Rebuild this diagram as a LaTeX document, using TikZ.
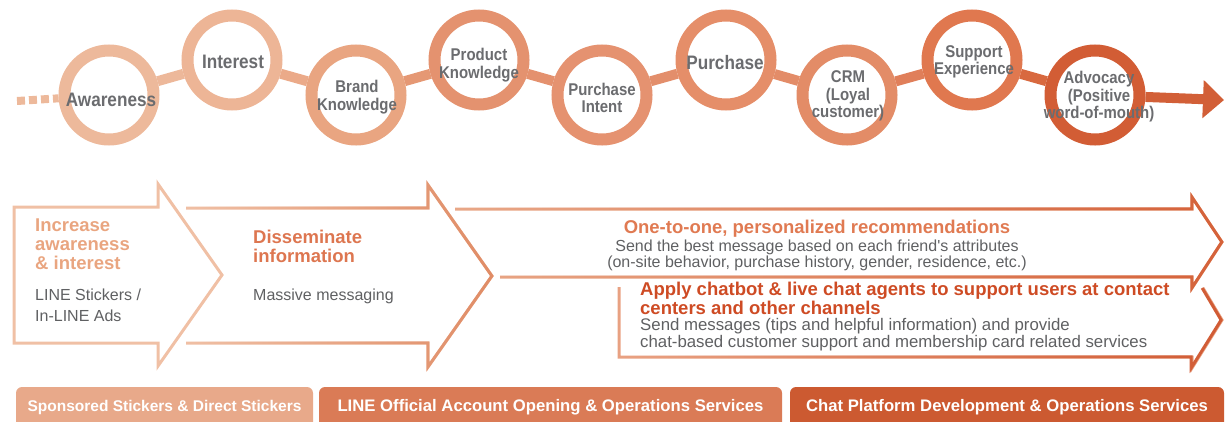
\documentclass[tikz,border=0pt]{standalone}
\usepackage{fontspec}
\setmainfont{Liberation Sans}
\newfontfamily\stepfont[FakeStretch=0.88]{Liberation Sans}
\usetikzlibrary{arrows.meta,fadings,backgrounds}

% COULEURS
\definecolor{stepgray}{HTML}{6B6C6F}
\definecolor{textgray}{HTML}{5F6062}
\definecolor{ringa}{HTML}{EDB99B}
\definecolor{ringb}{HTML}{EDB596}
\definecolor{ringc}{HTML}{E9A581}
\definecolor{ringd}{HTML}{E4926F}
\definecolor{ringe}{HTML}{E59270}
\definecolor{ringf}{HTML}{E58E69}
\definecolor{ringg}{HTML}{E38C67}
\definecolor{ringh}{HTML}{E0784F}
\definecolor{ringi}{HTML}{D25D35}
\definecolor{linka}{HTML}{EDB89A}
\definecolor{linkb}{HTML}{EBAA89}
\definecolor{linkc}{HTML}{E59874}
\definecolor{linkd}{HTML}{E4916E}
\definecolor{linke}{HTML}{E38E6B}
\definecolor{linkf}{HTML}{E38C68}
\definecolor{linkg}{HTML}{E07F5A}
\definecolor{linkh}{HTML}{D8693F}
\definecolor{arrowc}{HTML}{D25F37}
\definecolor{shapea}{HTML}{F0C0A5}
\definecolor{shapeb}{HTML}{E08C66}
\definecolor{shapec}{HTML}{E9A888}
\definecolor{shaped}{HTML}{D5623A}
\definecolor{shapee}{HTML}{E9A283}
\definecolor{shapef}{HTML}{D15B34}
\definecolor{headinc}{HTML}{E9A580}
\definecolor{headdis}{HTML}{DD7650}
\definecolor{headone}{HTML}{E07A52}
\definecolor{headapp}{HTML}{CE4B24}
\definecolor{bara}{HTML}{E8A98A}
\definecolor{barb}{HTML}{DA7B56}
\definecolor{barc}{HTML}{CC5A31}

\tikzfading[name=fade right, left color=transparent!100, right color=transparent!0]

\begin{document}
\begin{tikzpicture}[x=1pt,y=-1pt,
  ring/.style={circle,draw=#1,fill=white,line width=12pt,minimum size=89pt,inner sep=0pt},
  steptext/.style={text=stepgray,font=\stepfont\bfseries\fontsize{17}{17.5}\selectfont,align=center,inner sep=0pt},
  bigstep/.style={steptext,font=\stepfont\bfseries\fontsize{19.5}{20}\selectfont},
  link/.style={line width=10pt,draw=#1},
  outline/.style 2 args={line width=3pt,draw=#1,postaction={draw=#2,line width=3pt,path fading=fade right}},
  headline/.style={font=\bfseries\fontsize{18.5}{19}\selectfont,inner sep=0pt},
  bodyline/.style={text=textgray,font=\fontsize{16}{21}\selectfont,inner sep=0pt},
  bar/.style={fill=#1,rounded corners=6pt,text=white,minimum height=41pt,inner sep=0pt,
    font=\bfseries\fontsize{16.7}{17}\selectfont}]
  \useasboundingbox (0,0) rectangle (1226,421);

  % CERCLES
  \node[ring=ringa] (aw) at (109,95) {};
  \node[ring=ringb] (in) at (232,60) {};
  \node[ring=ringc] (bk) at (356,95) {};
  \node[ring=ringd] (pk) at (479,60) {};
  \node[ring=ringe] (pi) at (602,95) {};
  \node[ring=ringf] (pu) at (726,60) {};
  \node[ring=ringg] (crm) at (847,95) {};
  \node[ring=ringh] (se) at (972,60) {};
  \node[ring=ringi] (adv) at (1095,95) {};

  % TEXTES CERCLES
  \node[bigstep] (aw-t) at (111,100) {Awareness};
  \node[bigstep] (in-t) at (233,62) {Interest};
  \node[steptext] (bk-t) at (357,97) {Brand\\Knowledge};
  \node[steptext] (pk-t) at (479,65) {Product\\Knowledge};
  \node[steptext] (pi-t) at (602,98) {Purchase\\Intent};
  \node[bigstep] (pu-t) at (725,63) {Purchase};
  \node[steptext] (crm-t) at (848,96) {CRM\\(Loyal\\customer)};
  \node[steptext] (se-t) at (974,62) {Support\\Experience};
  \node[steptext] (adv-t) at (1099,97) {Advocacy\\(Positive\\word-of-mouth)};

  % LIAISONS
  \coordinate (start) at (17,101);
  \coordinate (tip) at (1224,100);
  \begin{scope}[on background layer]
    \draw[link=ringa,line width=8pt,dash pattern=on 8pt off 4pt] (start) -- (aw);
    \draw[link=linka] (aw) -- (in);
    \draw[link=linkb] (in) -- (bk);
    \draw[link=linkc] (bk) -- (pk);
    \draw[link=linkd] (pk) -- (pi);
    \draw[link=linke] (pi) -- (pu);
    \draw[link=linkf] (pu) -- (crm);
    \draw[link=linkg] (crm) -- (se);
    \draw[link=linkh] (se) -- (adv);
    \draw[link=arrowc,-{Triangle[width=37pt,length=21pt]}] (adv) -- (tip);
  \end{scope}

  % FLECHES
  \draw[line width=3pt,draw=shapea] (14,207) -- (158,207) -- (158,184) -- (222,275) -- (158,366) -- (158,343) -- (14,343) -- cycle;
  \draw[outline={shapea}{shapeb}] (186,208) -- (428,208) -- (428,185) -- (492,276) -- (428,367) -- (428,343) -- (186,343);
  \draw[outline={shapec}{shaped}] (455,209) -- (1192,209) -- (1192,197) -- (1222,242) -- (1192,288) -- (1192,277) -- (500,277);
  \draw[outline={shapee}{shapef}] (1203,288) -- (1222,320) -- (1192,368) -- (1192,357) -- (619,357) -- (619,287);

  % TEXTES FLECHES (base = derniere ligne)
  \node[headline,text=headinc,align=left,anchor=base west] (inc) at (35,269) {Increase\\awareness\\\& interest};
  \node[bodyline,align=left,anchor=base west] (stk) at (35,321) {LINE Stickers /\\In-LINE Ads};
  \node[headline,text=headdis,align=left,anchor=base west] (dis) at (253,262) {Disseminate\\information};
  \node[bodyline,anchor=base west] (mas) at (253,300) {Massive messaging};
  \node[headline,text=headone,anchor=base] (one) at (817,233) {One-to-one, personalized recommendations};
  \node[bodyline,font=\fontsize{16}{13.5}\selectfont,align=center,anchor=base] (best) at (817,267.5)
    {Send the best message based on each friend\textquotesingle s attributes\\(on-site behavior, purchase history, gender, residence, etc.)};
  \node[headline,text=headapp,font=\bfseries\fontsize{18.5}{15}\selectfont,align=left,anchor=base west] (app) at (640,314)
    {Apply chatbot \& live chat agents to support users at contact\\centers and other channels};
  \node[bodyline,font=\fontsize{16.8}{13}\selectfont,align=left,anchor=base west] (msg) at (640,347)
    {Send messages (tips and helpful information) and provide\\chat-based customer support and membership card related services};

  % BARRES
  \node[bar=bara,minimum width=297pt,font=\bfseries\fontsize{15.5}{16}\selectfont] (spo) at (164.5,407.5) {Sponsored Stickers \& Direct Stickers};
  \node[bar=barb,minimum width=463pt] (off) at (550.5,407.5) {LINE Official Account Opening \& Operations Services};
  \node[bar=barc,minimum width=434pt] (cha) at (1007,407.5) {Chat Platform Development \& Operations Services};
\end{tikzpicture}
\end{document}
